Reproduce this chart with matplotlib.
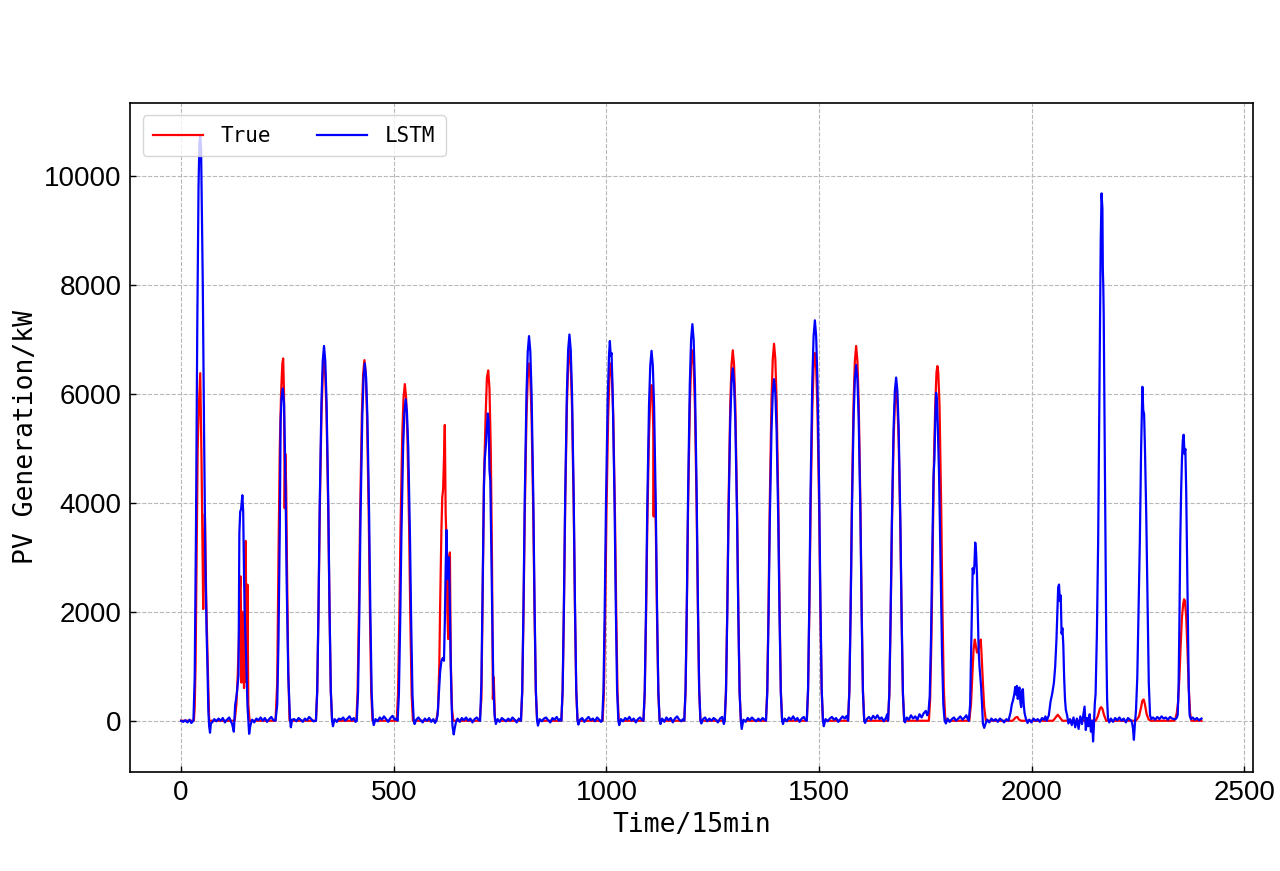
import matplotlib
matplotlib.use('Agg')
from matplotlib import pyplot as plt

true_t = [
    0, 30, 32, 34, 37, 39, 41, 45, 48, 52, 54, 56, 59, 63, 66,
    126, 130, 133, 136, 138, 140, 142, 144, 146, 148, 150, 152, 154, 156, 158, 161,
    222, 226, 229, 232, 235, 238, 240, 242, 243.5, 245, 247, 249, 252, 255,
    317, 320, 323, 326, 330, 333, 336, 339, 342, 346, 349, 352, 355,
    412, 415, 418, 421, 425, 428, 431, 434, 437, 441, 444, 447, 450,
    507, 510, 513, 516, 520, 523, 526, 529, 532, 536, 539, 542, 545,
    600, 604, 607, 609, 612, 614, 616, 618, 620, 622, 624, 626, 628, 630, 632, 634, 637, 640,
    702, 706, 709, 712, 716, 719, 722, 725, 728, 731, 733, 735, 738,
    799, 802, 805, 808, 812, 815, 818, 821, 824, 828, 831, 834, 837,
    894, 897, 900, 903, 907, 910, 913, 916, 919, 923, 926, 929, 932,
    991, 994, 997, 1000, 1004, 1007, 1010, 1013, 1016, 1020, 1023, 1026, 1029,
    1087, 1090, 1093, 1096, 1100, 1103, 1106, 1108, 1110, 1111, 1112, 1116, 1119, 1122, 1125,
    1183, 1186, 1189, 1192, 1196, 1199, 1202, 1205, 1208, 1212, 1215, 1218, 1221,
    1278, 1281, 1284, 1287, 1291, 1294, 1297, 1300, 1303, 1307, 1310, 1313, 1316,
    1375, 1378, 1381, 1384, 1388, 1391, 1394, 1397, 1400, 1404, 1407, 1410, 1413,
    1471, 1474, 1477, 1480, 1484, 1487, 1490, 1493, 1496, 1500, 1503, 1506, 1509,
    1568, 1571, 1574, 1577, 1581, 1584, 1587, 1590, 1593, 1597, 1600, 1603, 1606,
    1662, 1665, 1668, 1671, 1675, 1678, 1681, 1684, 1687, 1691, 1694, 1697, 1700,
    1758, 1761, 1764, 1767, 1770, 1773, 1776, 1778, 1780, 1783, 1787, 1790, 1793, 1796, 1798,
    1853, 1857, 1860, 1863, 1866, 1868, 1871, 1874, 1877, 1880, 1882, 1885, 1888, 1892,
    1955, 1962, 1966, 1970, 1975,
    2050, 2056, 2061, 2066, 2072,
    2150, 2155, 2160, 2163, 2166, 2170, 2175,
    2245, 2252, 2257, 2260, 2263, 2266, 2270, 2275, 2280,
    2335, 2338, 2341, 2344, 2347, 2350, 2353, 2356, 2358, 2360, 2363, 2366, 2369, 2372, 2375, 2399,
]
true_kw = [
    0, 0, 250, 1000, 3400, 5000, 5600, 6380, 4800, 2050, 3000, 3800, 2250, 900, 0,
    0, 300, 800, 1500, 2400, 2650, 700, 2000, 1200, 600, 2300, 3300, 700, 2500, 300, 0,
    0, 700, 3000, 5000, 6000, 6550, 6650, 6000, 3900, 4900, 4300, 2800, 900, 0,
    0, 530, 1980, 3830, 5610, 6340, 6600, 6340, 5610, 3830, 1980, 530, 0,
    0, 530, 1990, 3840, 5630, 6360, 6620, 6360, 5630, 3840, 1990, 530, 0,
    0, 490, 1850, 3580, 5250, 5930, 6180, 5930, 5250, 3580, 1850, 490, 0,
    0, 200, 1000, 2100, 3500, 4100, 4250, 4800, 5430, 3800, 3300, 2000, 1500, 3000, 3090, 1100, 200, 0,
    0, 400, 2300, 4400, 5600, 6300, 6430, 6100, 5000, 2900, 400, 800, 0,
    0, 520, 1970, 3800, 5580, 6300, 6560, 6300, 5580, 3800, 1970, 520, 0,
    0, 540, 2040, 3940, 5780, 6530, 6800, 6530, 5780, 3940, 2040, 540, 0,
    0, 520, 1970, 3800, 5580, 6300, 6560, 6300, 5580, 3800, 1970, 520, 0,
    0, 490, 1850, 3570, 5240, 5910, 6160, 5950, 5400, 3750, 5000, 3570, 1850, 490, 0,
    0, 540, 2040, 3940, 5780, 6530, 6800, 6530, 5780, 3940, 2040, 540, 0,
    0, 540, 2040, 3940, 5780, 6530, 6800, 6530, 5780, 3940, 2040, 540, 0,
    0, 550, 2080, 4010, 5880, 6640, 6920, 6640, 5880, 4010, 2080, 550, 0,
    0, 540, 2030, 3920, 5740, 6480, 6750, 6480, 5740, 3920, 2030, 540, 0,
    0, 550, 2060, 3990, 5850, 6600, 6880, 6600, 5850, 3990, 2060, 550, 0,
    0, 480, 1820, 3510, 5140, 5810, 6050, 5810, 5140, 3510, 1820, 480, 0,
    0, 400, 1500, 3200, 4800, 5800, 6400, 6510, 6400, 5800, 3900, 2000, 600, 100, 0,
    0, 300, 800, 1300, 1490, 1400, 1250, 1300, 1400, 1490, 1200, 700, 250, 0,
    0, 60, 70, 20, 0,
    0, 60, 110, 60, 0,
    0, 80, 220, 250, 220, 100, 0,
    0, 80, 250, 370, 390, 300, 120, 20, 0,
    0, 50, 150, 350, 800, 1400, 1900, 2150, 2230, 2200, 1900, 1300, 600, 150, 0, 0,
]

# LSTM forecast, vertices (day block, then the night after it)
lstm_t = [
    0, 5, 10, 15, 20, 24, 29,
    32, 35, 38, 41, 43, 45, 47, 49, 51, 54, 57, 60, 62, 64, 66, 68, 70,
    74, 78, 83, 88, 93, 98, 103, 108, 113, 117, 120, 124,
    127, 131, 135, 137, 139, 141, 144, 146, 148, 150, 153, 156, 160, 163,
    167, 172, 177, 182, 187, 192, 197, 202, 207, 212, 217, 222,
    226, 229, 232, 234, 236, 239, 242, 244, 246, 248, 252, 256, 258, 261,
    266, 271, 276, 281, 286, 291, 296, 301, 306, 311, 317,
    320, 323, 326, 330, 333, 336, 339, 342, 346, 349, 352, 355, 357,
    361, 366, 371, 376, 381, 386, 391, 396, 401, 406, 410, 413,
    416, 419, 422, 426, 429, 432, 435, 438, 442, 445, 448, 451, 453,
    457, 462, 467, 472, 477, 482, 487, 492, 497, 502, 506, 509,
    512, 515, 518, 522, 525, 528, 531, 534, 538, 541, 544, 547, 549,
    553, 558, 563, 568, 573, 578, 583, 588, 593, 597, 600,
    603, 606, 609, 612, 615, 618, 620, 622, 624, 626, 628, 630, 632, 634, 636, 638, 641, 643, 646,
    650, 655, 660, 665, 670, 675, 680, 685, 690, 695, 700, 703,
    706, 709, 712, 714, 717, 719, 721, 723, 725, 727, 729, 731, 734, 737, 740,
    744, 749, 754, 759, 764, 769, 774, 779, 784, 789, 794, 799,
    802, 805, 808, 812, 815, 818, 821, 824, 828, 831, 834, 837, 839,
    843, 848, 853, 858, 863, 868, 873, 878, 883, 888, 891, 894,
    897, 900, 903, 907, 910, 913, 916, 919, 923, 926, 929, 932, 934,
    938, 943, 948, 953, 958, 963, 968, 973, 978, 983, 987, 990,
    993, 996, 999, 1003, 1006, 1008, 1010, 1012, 1015, 1019, 1022, 1025, 1028, 1030,
    1034, 1039, 1044, 1049, 1054, 1059, 1064, 1069, 1074, 1079, 1084, 1087,
    1090, 1093, 1096, 1100, 1103, 1106, 1109, 1112, 1116, 1119, 1122, 1125, 1127,
    1131, 1136, 1141, 1146, 1151, 1156, 1161, 1166, 1171, 1176, 1180, 1183,
    1186, 1189, 1192, 1196, 1199, 1202, 1205, 1208, 1212, 1215, 1218, 1221, 1223,
    1227, 1232, 1237, 1242, 1247, 1252, 1257, 1262, 1267, 1272, 1276, 1278,
    1281, 1284, 1287, 1291, 1294, 1297, 1300, 1303, 1307, 1310, 1313, 1316, 1318,
    1322, 1327, 1332, 1337, 1342, 1347, 1352, 1357, 1362, 1367, 1372, 1375,
    1378, 1381, 1384, 1388, 1391, 1394, 1397, 1400, 1404, 1407, 1410, 1413, 1415,
    1419, 1424, 1429, 1434, 1439, 1444, 1449, 1454, 1459, 1464, 1468, 1471,
    1474, 1477, 1480, 1484, 1487, 1490, 1493, 1496, 1500, 1503, 1506, 1509, 1511,
    1515, 1520, 1525, 1530, 1535, 1540, 1545, 1550, 1555, 1560, 1565, 1568,
    1571, 1574, 1577, 1581, 1584, 1587, 1590, 1593, 1597, 1600, 1603, 1606, 1608,
    1612, 1617, 1622, 1627, 1632, 1637, 1642, 1647, 1652, 1657, 1660, 1662,
    1665, 1668, 1671, 1675, 1678, 1681, 1684, 1687, 1691, 1694, 1697, 1700, 1702,
    1706, 1711, 1716, 1721, 1726, 1731, 1736, 1741, 1746, 1751, 1754,
    1757, 1760, 1763, 1766, 1769, 1771, 1773, 1775, 1777, 1779, 1782, 1786, 1789, 1792, 1795, 1798,
    1802, 1807, 1812, 1817, 1822, 1827, 1832, 1837, 1842, 1846, 1849, 1852,
    1855, 1858, 1861, 1863, 1865, 1867, 1869, 1871, 1873, 1875, 1877, 1879, 1881, 1883, 1885, 1888, 1891,
    1895, 1900, 1905, 1910, 1915, 1920, 1925, 1930, 1935, 1940, 1945,
    1950, 1953, 1956, 1959, 1961, 1963, 1965, 1967, 1969, 1971, 1973, 1975, 1977, 1979, 1981, 1983, 1986, 1990,
    1994, 1999, 2004, 2009, 2014, 2019, 2024, 2029, 2032, 2035,
    2040, 2044, 2048, 2052, 2055, 2058, 2060, 2062, 2064, 2066, 2068, 2070, 2072, 2074, 2076, 2078, 2080, 2083, 2086,
    2090, 2094, 2098, 2102, 2106, 2110, 2114, 2118, 2121, 2124, 2127, 2130, 2133, 2136, 2139, 2142, 2144, 2146,
    2148, 2150, 2153, 2156, 2159, 2162, 2164, 2166, 2167, 2168, 2169, 2171, 2173, 2175, 2177, 2179, 2182,
    2186, 2191, 2196, 2201, 2206, 2211, 2216, 2221, 2226, 2231, 2234,
    2236, 2238, 2240, 2242, 2245, 2248, 2251, 2254, 2257, 2259, 2260, 2262, 2264, 2266, 2269, 2272, 2275, 2278, 2281,
    2285, 2290, 2295, 2300, 2305, 2310, 2315, 2320, 2325, 2330, 2335,
    2338, 2341, 2343, 2345, 2347, 2349, 2351, 2353, 2355, 2357, 2359, 2361, 2363, 2365, 2367, 2369, 2371,
    2374, 2378, 2383, 2388, 2393, 2399,
]
lstm_kw = [
    0, -20, 10, -30, 20, -40, 0,
    800, 3500, 7200, 9800, 10600, 10750, 10500, 9300, 8000, 5300, 3000, 1600, 1000, 200, -100, -220, -50,
    -20, 30, -10, 40, 0, 50, -30, 20, 60, -10, -60, -200,
    280, 500, 830, 3450, 3840, 3880, 4140, 3840, 2650, 1860, 1150, 280, -240, -80,
    20, -30, 40, 10, 60, 0, 50, -20, 30, 70, 10, 0,
    300, 1500, 3500, 5500, 5900, 6100, 5830, 5030, 4000, 2650, 830, 40, -120, 20,
    30, -10, 50, 20, -20, 40, 10, 70, 30, -10, 0,
    550, 2050, 4000, 5850, 6600, 6880, 6600, 5850, 4000, 2050, 550, 0, -100,
    30, -20, 40, 20, 60, 0, 40, 80, 10, 50, -20, 0,
    520, 1970, 3800, 5580, 6300, 6560, 6300, 5580, 3800, 1970, 520, 0, -80,
    30, -10, 60, 20, 80, 30, -20, 50, 90, 20, 40, 0,
    470, 1770, 3420, 5020, 5660, 5900, 5660, 5020, 3420, 1770, 470, 0, -60,
    20, 60, 10, -30, 40, 0, 50, -20, 30, -40, 0,
    100, 500, 900, 1100, 1150, 1100, 1800, 2800, 3500, 2600, 2900, 3000, 2000, 1000, 300, -100, -250, -150, -30,
    40, -20, 50, 10, 60, 0, 40, -30, 30, 60, 10, 0,
    700, 2500, 4300, 4800, 5100, 5400, 5640, 5500, 4600, 4400, 3300, 2200, 700, 100, -60,
    30, -20, 50, 20, -10, 40, 0, 60, 20, -30, 40, 0,
    560, 2120, 4100, 6000, 6780, 7060, 6780, 6000, 4100, 2120, 560, 0, -90,
    30, -10, 40, 60, 10, -30, 50, 20, 70, 0, 30, 0,
    570, 2130, 4110, 6030, 6810, 7090, 6810, 6030, 4110, 2130, 570, 0, -70,
    20, 50, -20, 30, 70, 10, 40, -10, 60, 20, -20, 0,
    560, 2090, 4040, 5920, 6700, 6970, 6700, 6750, 5900, 4040, 2090, 560, 0, -80,
    30, -10, 50, 20, 70, 0, 40, -30, 30, 60, 10, 0,
    540, 2040, 3940, 5770, 6520, 6790, 6520, 5770, 3940, 2040, 540, 0, -60,
    40, -20, 60, 10, 50, -30, 40, 80, 20, -10, 30, 0,
    580, 2180, 4220, 6190, 6990, 7280, 6990, 6190, 4220, 2180, 580, 0, -50,
    30, 60, -10, 40, 0, 50, 20, -30, 40, 70, -60, 0,
    520, 1940, 3750, 5500, 6210, 6470, 6200, 5500, 3750, 1940, 520, 0, -150,
    20, -20, 50, 10, 60, 20, -10, 40, 0, 50, 20, 0,
    500, 1880, 3640, 5330, 6020, 6270, 6020, 5330, 3640, 1880, 500, 0, -60,
    40, -10, 60, 20, 80, 10, 50, -20, 40, 70, 10, 0,
    590, 2210, 4260, 6250, 7060, 7350, 7060, 6250, 4260, 2210, 590, 0, -100,
    30, -10, 40, 70, 20, 50, -20, 30, 80, 40, 90, 0,
    520, 1960, 3790, 5550, 6270, 6530, 6270, 5550, 3790, 1960, 520, 0, -40,
    30, 70, 20, 90, 40, 100, 30, 60, -10, 50, 120, 0,
    500, 1890, 3650, 5360, 6050, 6300, 6050, 5360, 3650, 1890, 500, 0, -30,
    60, 20, 100, 40, 80, 20, 120, 60, 140, 180, 100,
    150, 450, 1500, 3100, 4500, 4790, 5500, 6020, 5900, 5400, 4500, 2600, 1200, 300, 0, -50,
    40, -20, 30, 60, 0, 40, 80, 20, 60, 100, 40, 0,
    300, 1500, 2800, 2700, 2850, 3270, 3100, 2700, 2000, 1300, 1000, 800, 600, 300, -50, -130, -60,
    20, -30, 40, 0, 30, -20, 40, 10, -30, 30, 0,
    150, 300, 380, 500, 620, 480, 640, 400, 550, 610, 350, 250, 550, 580, 300, 140, 40, -40,
    20, -30, 40, 0, 30, -20, 50, 20, 80, 0,
    100, 350, 500, 700, 1000, 1500, 2000, 2450, 2500, 2200, 2300, 1600, 1700, 1400, 800, 400, 200, 100, -50,
    30, -80, 60, -120, 40, -150, 80, -60, 100, 260, -170, 50, -100, 120, -200, 0, -380, -100,
    300, 500, 1600, 3300, 6000, 8800, 9680, 9400, 8270, 8000, 7480, 5500, 3300, 1500, 400, 50, -30,
    40, -20, 50, 10, 60, 0, 40, -30, 50, 20, 0,
    -50, -150, -350, -100, 200, 800, 2000, 3300, 5000, 5800, 6130, 5700, 5630, 5000, 3800, 2200, 700, 100, 30,
    60, 20, 70, 30, 80, 40, 60, 20, 70, 40, 30,
    30, 60, 110, 600, 1800, 3300, 4200, 4800, 5150, 5250, 4900, 4990, 4200, 3000, 1700, 600, 100,
    30, 60, 20, 50, 10, 40,
]

x_ticks = [0, 500, 1000, 1500, 2000, 2500]
y_ticks = [0, 2000, 4000, 6000, 8000, 10000]

plt.rcParams['font.family'] = ['DejaVu Sans Mono']

fig = plt.figure(figsize=(12.8, 8.71), dpi=100)
ax = fig.add_axes([0.1016, 0.1137, 0.8773, 0.7681])

ax.plot(true_t, true_kw, color='red', lw=1.6, label='True')
ax.plot(lstm_t, lstm_kw, color='blue', lw=1.6, label='LSTM')

ax.set_xlim(-120, 2520)
ax.set_ylim(-940, 11340)
ax.set_xticks(x_ticks)
ax.set_xticklabels([str(v) for v in x_ticks], fontfamily='Liberation Sans', fontsize=20)
ax.set_yticks(y_ticks)
ax.set_yticklabels([str(v) for v in y_ticks], fontfamily='Liberation Sans', fontsize=20)
ax.tick_params(direction='in', length=4, width=1, pad=6)
ax.grid(ls='--', color='#b8b8b8', lw=0.8)
for s in ax.spines.values():
    s.set_linewidth(1.2)

ax.set_xlabel('Time/15min', fontsize=19)
ax.set_ylabel('PV Generation/kW', fontsize=19)
ax.legend(loc='upper left', ncol=2, fontsize=15, handlelength=2.4,
          handletextpad=0.85, columnspacing=2.2, borderpad=0.5,
          borderaxespad=0.6)

fig.savefig('out.png')
